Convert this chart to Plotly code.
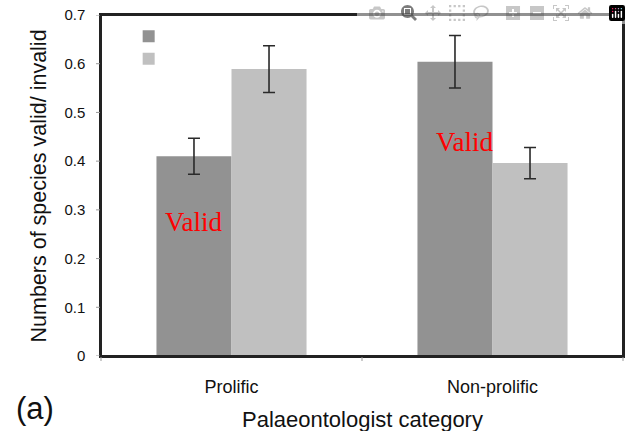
import plotly.graph_objects as go

categories = ["Prolific", "Non-prolific"]
valid = [0.41, 0.604]
valid_err = [0.037, 0.054]
invalid = [0.589, 0.396]
invalid_err = [0.048, 0.032]
y_ticks = [0, 0.1, 0.2, 0.3, 0.4, 0.5, 0.6, 0.7]
y_tick_labels = ["0", "0.1", "0.2", "0.3", "0.4", "0.5", "0.6", "0.7"]
label_text = "Valid"
label_y = [0.275, 0.44]
label_shift = [-38, -28]

fig = go.Figure()
fig.add_trace(go.Bar(
    x=categories, y=valid, name=" ",
    marker=dict(color="#929292", line=dict(width=0)),
    error_y=dict(type="data", array=valid_err, visible=True,
                 color="#2a2a2a", thickness=1.6, width=6),
))
fig.add_trace(go.Bar(
    x=categories, y=invalid, name=" ",
    marker=dict(color="#c0c0c0", line=dict(width=0)),
    error_y=dict(type="data", array=invalid_err, visible=True,
                 color="#2a2a2a", thickness=1.6, width=6),
))

for cat, ly, sh in zip(categories, label_y, label_shift):
    fig.add_annotation(
        x=cat, y=ly, xref="x", yref="y", text=label_text, showarrow=False,
        xshift=sh, font=dict(family="Liberation Serif", size=27, color="#ff0000"),
    )

# panel label
fig.add_annotation(
    x=-0.1264, y=-0.1525, xref="paper", yref="paper", text="(a)", showarrow=False,
    xanchor="center", yanchor="middle",
    font=dict(family="Liberation Sans", size=31, color="#111111"),
)
# axis titles
fig.add_annotation(
    x=0.5, y=-0.1848, xref="paper", yref="paper", text="Palaeontologist category",
    showarrow=False, xanchor="center", yanchor="middle",
    font=dict(family="Liberation Sans", size=22, color="#111111"),
)
fig.add_annotation(
    x=-0.1188, y=0.5, xref="paper", yref="paper", text="Numbers of species valid/ invalid",
    showarrow=False, xanchor="center", yanchor="middle", textangle=-90,
    font=dict(family="Liberation Sans", size=21.5, color="#111111"),
)

# short visible tick marks
for bx in (0, 0.5, 1):
    fig.add_shape(type="line", xref="paper", yref="paper", x0=bx, x1=bx,
                  y0=0, y1=-0.0147, line=dict(color="#999999", width=1))
for ty in y_ticks:
    fig.add_shape(type="line", xref="paper", yref="y", x0=-0.0096, x1=0,
                  y0=ty, y1=ty, line=dict(color="#999999", width=1))
# plot frame
fig.add_shape(type="rect", xref="paper", yref="paper", x0=0, y0=0, x1=1, y1=1,
              line=dict(color="#222222", width=2), fillcolor="rgba(0,0,0,0)",
              layer="above")

fig.update_layout(
    width=631, height=431,
    margin=dict(l=101, r=8, t=15, b=75, autoexpand=False),
    plot_bgcolor="white", paper_bgcolor="white",
    barmode="group", bargap=0.425, bargroupgap=0,
    font=dict(family="Liberation Sans", color="#111111"),
    legend=dict(
        x=0.053, y=0.985, xanchor="left", yanchor="top",
        bgcolor="rgba(0,0,0,0)", font=dict(size=15),
        traceorder="normal", itemwidth=30, tracegroupgap=0,
    ),
    showlegend=True,
)
fig.update_xaxes(
    tickfont=dict(size=18),
    automargin=False,
    showline=True, linecolor="#222222", linewidth=1.5, mirror=True,
    ticks="outside", ticklen=14, tickcolor="rgba(0,0,0,0)",
    showgrid=False,
)
fig.update_yaxes(
    range=[0, 0.7], tickvals=y_ticks, ticktext=y_tick_labels,
    tickfont=dict(size=15),
    automargin=False,
    showline=True, linecolor="#222222", linewidth=1.5, mirror=True,
    ticks="outside", ticklen=11, tickcolor="rgba(0,0,0,0)",
    showgrid=False, zeroline=False,
)

fig.write_html("out.html", post_script="document.body.style.margin='0px';")
